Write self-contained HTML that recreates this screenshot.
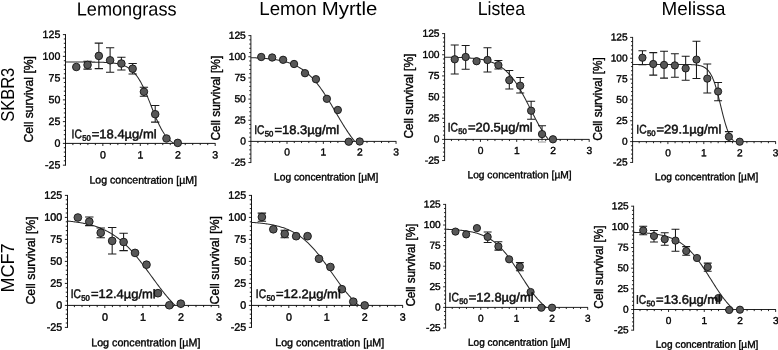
<!DOCTYPE html>
<html lang="en"><head><meta charset="utf-8"><title>Cell survival dose-response curves</title>
<style>html,body{margin:0;padding:0;background:#fff}body{width:778px;height:350px;overflow:hidden}svg{display:block;will-change:transform}text{font-family:'Liberation Sans', Arial, sans-serif}</style></head><body>
<svg width="778" height="350" viewBox="0 0 778 350">
<rect width="778" height="350" fill="#fff"/>
<text x="76.70" y="15.40" font-size="19.00" textLength="99.90" lengthAdjust="spacingAndGlyphs" transform="rotate(0.04 76.70 15.40)">Lemongrass</text>
<text x="477.70" y="15.00" font-size="19.00" textLength="47.30" lengthAdjust="spacingAndGlyphs" transform="rotate(0.04 477.70 15.00)">Listea</text>
<text x="661.60" y="15.00" font-size="19.00" textLength="63.90" lengthAdjust="spacingAndGlyphs" transform="rotate(0.04 661.60 15.00)">Melissa</text>
<text transform="rotate(0.04 259.20 15.00)"><tspan x="259.20" y="15.00" font-size="19.00" textLength="62.60" lengthAdjust="spacingAndGlyphs">Lemon </tspan><tspan x="321.80" y="15.00" font-size="19.00" textLength="55.50" lengthAdjust="spacingAndGlyphs">Myrtle</tspan></text>
<text x="13.80" y="121.80" font-size="19.00" textLength="54.00" lengthAdjust="spacingAndGlyphs" transform="rotate(-90 13.80 121.80)">SKBR3</text>
<text x="13.80" y="292.60" font-size="19.00" textLength="49.30" lengthAdjust="spacingAndGlyphs" transform="rotate(-90 13.80 292.60)">MCF7</text>
<path d="M65.50 34.15V165.61M65.05 143.40H215.45" stroke="#0a0a0a" stroke-width="0.95" fill="none"/>
<path d="M65.50 165.16h-2.60M65.50 160.81h-1.70M65.50 156.46h-1.70M65.50 152.10h-1.70M65.50 147.75h-1.70M65.50 143.40h-2.60M65.50 139.05h-1.70M65.50 134.70h-1.70M65.50 130.34h-1.70M65.50 125.99h-1.70M65.50 121.64h-2.60M65.50 117.29h-1.70M65.50 112.94h-1.70M65.50 108.58h-1.70M65.50 104.23h-1.70M65.50 99.88h-2.60M65.50 95.53h-1.70M65.50 91.18h-1.70M65.50 86.82h-1.70M65.50 82.47h-1.70M65.50 78.12h-2.60M65.50 73.77h-1.70M65.50 69.42h-1.70M65.50 65.06h-1.70M65.50 60.71h-1.70M65.50 56.36h-2.60M65.50 52.01h-1.70M65.50 47.66h-1.70M65.50 43.30h-1.70M65.50 38.95h-1.70M65.50 34.60h-2.60M72.89 143.40v1.70M80.38 143.40v1.70M87.87 143.40v1.70M95.36 143.40v1.70M102.85 143.40v2.60M110.34 143.40v1.70M117.83 143.40v1.70M125.32 143.40v1.70M132.81 143.40v1.70M140.30 143.40v2.60M147.79 143.40v1.70M155.28 143.40v1.70M162.77 143.40v1.70M170.26 143.40v1.70M177.75 143.40v2.60M185.24 143.40v1.70M192.73 143.40v1.70M200.22 143.40v1.70M207.71 143.40v1.70M215.20 143.40v2.60" stroke="#0a0a0a" stroke-width="0.90" fill="none"/>
<text x="60.30" y="37.90" font-size="10.60" text-anchor="end" transform="rotate(0.04 60.30 37.90)" stroke="#000" stroke-width="0.37">125</text>
<text x="60.30" y="59.66" font-size="10.60" text-anchor="end" transform="rotate(0.04 60.30 59.66)" stroke="#000" stroke-width="0.37">100</text>
<text x="60.30" y="81.42" font-size="10.60" text-anchor="end" transform="rotate(0.04 60.30 81.42)" stroke="#000" stroke-width="0.37">75</text>
<text x="60.30" y="103.18" font-size="10.60" text-anchor="end" transform="rotate(0.04 60.30 103.18)" stroke="#000" stroke-width="0.37">50</text>
<text x="60.30" y="124.94" font-size="10.60" text-anchor="end" transform="rotate(0.04 60.30 124.94)" stroke="#000" stroke-width="0.37">25</text>
<text x="60.30" y="146.70" font-size="10.60" text-anchor="end" transform="rotate(0.04 60.30 146.70)" stroke="#000" stroke-width="0.37">0</text>
<text x="60.30" y="168.46" font-size="10.60" text-anchor="end" transform="rotate(0.04 60.30 168.46)" stroke="#000" stroke-width="0.37">-25</text>
<text x="102.95" y="158.60" font-size="10.60" text-anchor="middle" transform="rotate(0.04 102.95 158.60)" stroke="#000" stroke-width="0.37">0</text>
<text x="140.40" y="158.60" font-size="10.60" text-anchor="middle" transform="rotate(0.04 140.40 158.60)" stroke="#000" stroke-width="0.37">1</text>
<text x="177.85" y="158.60" font-size="10.60" text-anchor="middle" transform="rotate(0.04 177.85 158.60)" stroke="#000" stroke-width="0.37">2</text>
<text x="215.30" y="158.60" font-size="10.60" text-anchor="middle" transform="rotate(0.04 215.30 158.60)" stroke="#000" stroke-width="0.37">3</text>
<text x="33.30" y="142.60" font-size="12.50" textLength="86.60" lengthAdjust="spacingAndGlyphs" transform="rotate(-90 33.30 142.60)" stroke="#000" stroke-width="0.37">Cell survival [%]</text>
<text x="89.45" y="183.60" font-size="10.80" textLength="107.60" lengthAdjust="spacingAndGlyphs" transform="rotate(0.04 89.45 183.60)" stroke="#000" stroke-width="0.37">Log concentration [µM]</text>
<path d="M65.40 62.02 L66.10 62.02 L66.80 62.02 L67.51 62.02 L68.21 62.02 L68.91 62.02 L69.61 62.02 L70.32 62.02 L71.02 62.03 L71.72 62.03 L72.42 62.03 L73.12 62.03 L73.83 62.03 L74.53 62.03 L75.23 62.03 L75.93 62.03 L76.63 62.03 L77.34 62.03 L78.04 62.03 L78.74 62.04 L79.44 62.04 L80.15 62.04 L80.85 62.04 L81.55 62.04 L82.25 62.05 L82.95 62.05 L83.66 62.05 L84.36 62.05 L85.06 62.06 L85.76 62.06 L86.47 62.06 L87.17 62.07 L87.87 62.07 L88.57 62.08 L89.27 62.08 L89.98 62.09 L90.68 62.09 L91.38 62.10 L92.08 62.11 L92.79 62.11 L93.49 62.12 L94.19 62.13 L94.89 62.14 L95.59 62.15 L96.30 62.16 L97.00 62.18 L97.70 62.19 L98.40 62.20 L99.10 62.22 L99.81 62.24 L100.51 62.26 L101.21 62.28 L101.91 62.30 L102.62 62.32 L103.32 62.35 L104.02 62.38 L104.72 62.41 L105.42 62.44 L106.13 62.48 L106.83 62.52 L107.53 62.56 L108.23 62.60 L108.94 62.65 L109.64 62.71 L110.34 62.77 L111.04 62.83 L111.74 62.90 L112.45 62.97 L113.15 63.05 L113.85 63.14 L114.55 63.23 L115.26 63.34 L115.96 63.45 L116.66 63.57 L117.36 63.70 L118.06 63.84 L118.77 63.99 L119.47 64.16 L120.17 64.33 L120.87 64.53 L121.57 64.73 L122.28 64.96 L122.98 65.20 L123.68 65.46 L124.38 65.74 L125.09 66.05 L125.79 66.37 L126.49 66.73 L127.19 67.10 L127.89 67.51 L128.60 67.95 L129.30 68.42 L130.00 68.92 L130.70 69.46 L131.41 70.04 L132.11 70.66 L132.81 71.32 L133.51 72.02 L134.21 72.77 L134.92 73.57 L135.62 74.41 L136.32 75.31 L137.02 76.26 L137.73 77.27 L138.43 78.32 L139.13 79.44 L139.83 80.61 L140.53 81.84 L141.24 83.12 L141.94 84.46 L142.64 85.85 L143.34 87.30 L144.05 88.79 L144.75 90.33 L145.45 91.92 L146.15 93.55 L146.85 95.22 L147.56 96.92 L148.26 98.64 L148.96 100.39 L149.66 102.16 L150.36 103.93 L151.07 105.71 L151.77 107.50 L152.47 109.27 L153.17 111.03 L153.88 112.77 L154.58 114.49 L155.28 116.18 L155.98 117.84 L156.68 119.46 L157.39 121.04 L158.09 122.57 L158.79 124.05 L159.49 125.48 L160.20 126.86 L160.90 128.18 L161.60 129.45 L162.30 130.66 L163.00 131.82 L163.71 132.92 L164.41 133.96 L165.11 134.95 L165.81 135.89 L166.52 136.77 L167.22 137.60 L167.92 138.39 L168.62 139.12 L169.32 139.82 L170.03 140.46 L170.73 141.07 L171.43 141.64 L172.13 142.17 L172.83 142.66 L173.54 143.12 L173.99 143.40" stroke="#2a2a2a" stroke-width="1.05" fill="none" stroke-linejoin="round"/>
<path d="M87.56 61.20V69.10M83.41 61.20h8.30M83.41 69.10h8.30M98.83 43.10V68.60M94.68 43.10h8.30M94.68 68.60h8.30M110.11 47.80V72.30M105.96 47.80h8.30M105.96 72.30h8.30M121.38 57.30V70.00M117.23 57.30h8.30M117.23 70.00h8.30M132.66 63.40V74.00M128.51 63.40h8.30M128.51 74.00h8.30M143.93 87.25V96.25M139.78 87.25h8.30M139.78 96.25h8.30M155.20 105.50V122.10M151.05 105.50h8.30M151.05 122.10h8.30" stroke="#1a1a1a" stroke-width="1.05" fill="none"/>
<circle cx="76.29" cy="67.00" r="3.80" fill="#575757" stroke="#141414" stroke-width="0.9"/>
<circle cx="87.56" cy="64.90" r="3.80" fill="#575757" stroke="#141414" stroke-width="0.9"/>
<circle cx="98.83" cy="55.90" r="3.80" fill="#575757" stroke="#141414" stroke-width="0.9"/>
<circle cx="110.11" cy="60.30" r="3.80" fill="#575757" stroke="#141414" stroke-width="0.9"/>
<circle cx="121.38" cy="63.50" r="3.80" fill="#575757" stroke="#141414" stroke-width="0.9"/>
<circle cx="132.66" cy="68.70" r="3.80" fill="#575757" stroke="#141414" stroke-width="0.9"/>
<circle cx="143.93" cy="91.75" r="3.80" fill="#575757" stroke="#141414" stroke-width="0.9"/>
<circle cx="155.20" cy="114.20" r="3.80" fill="#575757" stroke="#141414" stroke-width="0.9"/>
<circle cx="166.48" cy="138.50" r="3.80" fill="#575757" stroke="#141414" stroke-width="0.9"/>
<circle cx="177.75" cy="142.90" r="3.80" fill="#575757" stroke="#141414" stroke-width="0.9"/>
<text transform="rotate(0.04 71.60 138.20)" fill="#101010" stroke="#101010" stroke-width="0.5"><tspan x="71.60" y="138.20" font-size="12.50" textLength="10.30" lengthAdjust="spacingAndGlyphs">IC</tspan><tspan x="82.20" y="140.80" font-size="7.90" textLength="8.60" lengthAdjust="spacingAndGlyphs">50</tspan><tspan x="91.80" y="138.20" font-size="12.50" textLength="64.80" lengthAdjust="spacingAndGlyphs">=18.4µg/ml</tspan></text>
<path d="M250.90 35.15V163.01M250.45 141.40H396.30" stroke="#0a0a0a" stroke-width="0.92" fill="none"/>
<path d="M250.90 162.56h-2.52M250.90 158.33h-1.65M250.90 154.10h-1.65M250.90 149.86h-1.65M250.90 145.63h-1.65M250.90 141.40h-2.52M250.90 137.17h-1.65M250.90 132.94h-1.65M250.90 128.70h-1.65M250.90 124.47h-1.65M250.90 120.24h-2.52M250.90 116.01h-1.65M250.90 111.78h-1.65M250.90 107.54h-1.65M250.90 103.31h-1.65M250.90 99.08h-2.52M250.90 94.85h-1.65M250.90 90.62h-1.65M250.90 86.38h-1.65M250.90 82.15h-1.65M250.90 77.92h-2.52M250.90 73.69h-1.65M250.90 69.46h-1.65M250.90 65.22h-1.65M250.90 60.99h-1.65M250.90 56.76h-2.52M250.90 52.53h-1.65M250.90 48.30h-1.65M250.90 44.06h-1.65M250.90 39.83h-1.65M250.90 35.60h-2.52M257.92 141.40v1.65M265.19 141.40v1.65M272.46 141.40v1.65M279.73 141.40v1.65M287.00 141.40v2.52M294.27 141.40v1.65M301.54 141.40v1.65M308.81 141.40v1.65M316.08 141.40v1.65M323.35 141.40v2.52M330.62 141.40v1.65M337.89 141.40v1.65M345.16 141.40v1.65M352.43 141.40v1.65M359.70 141.40v2.52M366.97 141.40v1.65M374.24 141.40v1.65M381.51 141.40v1.65M388.78 141.40v1.65M396.05 141.40v2.52" stroke="#0a0a0a" stroke-width="0.87" fill="none"/>
<text x="245.85" y="38.80" font-size="10.29" text-anchor="end" transform="rotate(0.04 245.85 38.80)" stroke="#000" stroke-width="0.37">125</text>
<text x="245.85" y="59.96" font-size="10.29" text-anchor="end" transform="rotate(0.04 245.85 59.96)" stroke="#000" stroke-width="0.37">100</text>
<text x="245.85" y="81.12" font-size="10.29" text-anchor="end" transform="rotate(0.04 245.85 81.12)" stroke="#000" stroke-width="0.37">75</text>
<text x="245.85" y="102.28" font-size="10.29" text-anchor="end" transform="rotate(0.04 245.85 102.28)" stroke="#000" stroke-width="0.37">50</text>
<text x="245.85" y="123.44" font-size="10.29" text-anchor="end" transform="rotate(0.04 245.85 123.44)" stroke="#000" stroke-width="0.37">25</text>
<text x="245.85" y="144.60" font-size="10.29" text-anchor="end" transform="rotate(0.04 245.85 144.60)" stroke="#000" stroke-width="0.37">0</text>
<text x="245.85" y="165.76" font-size="10.29" text-anchor="end" transform="rotate(0.04 245.85 165.76)" stroke="#000" stroke-width="0.37">-25</text>
<text x="287.10" y="155.57" font-size="10.29" text-anchor="middle" transform="rotate(0.04 287.10 155.57)" stroke="#000" stroke-width="0.37">0</text>
<text x="323.45" y="155.57" font-size="10.29" text-anchor="middle" transform="rotate(0.04 323.45 155.57)" stroke="#000" stroke-width="0.37">1</text>
<text x="359.80" y="155.57" font-size="10.29" text-anchor="middle" transform="rotate(0.04 359.80 155.57)" stroke="#000" stroke-width="0.37">2</text>
<text x="396.15" y="155.57" font-size="10.29" text-anchor="middle" transform="rotate(0.04 396.15 155.57)" stroke="#000" stroke-width="0.37">3</text>
<text x="219.65" y="140.60" font-size="12.13" textLength="84.85" lengthAdjust="spacingAndGlyphs" transform="rotate(-90 219.65 140.60)" stroke="#000" stroke-width="0.37">Cell survival [%]</text>
<text x="273.99" y="180.42" font-size="10.48" textLength="104.44" lengthAdjust="spacingAndGlyphs" transform="rotate(0.04 273.99 180.42)" stroke="#000" stroke-width="0.37">Log concentration [µM]</text>
<path d="M250.65 57.66 L251.33 57.68 L252.01 57.71 L252.69 57.73 L253.38 57.76 L254.06 57.79 L254.74 57.82 L255.42 57.85 L256.10 57.88 L256.78 57.91 L257.47 57.95 L258.15 57.99 L258.83 58.02 L259.51 58.06 L260.19 58.11 L260.87 58.15 L261.56 58.19 L262.24 58.24 L262.92 58.29 L263.60 58.34 L264.28 58.39 L264.96 58.45 L265.64 58.51 L266.33 58.57 L267.01 58.63 L267.69 58.69 L268.37 58.76 L269.05 58.83 L269.73 58.91 L270.42 58.98 L271.10 59.06 L271.78 59.15 L272.46 59.23 L273.14 59.32 L273.82 59.42 L274.50 59.51 L275.19 59.62 L275.87 59.72 L276.55 59.83 L277.23 59.95 L277.91 60.07 L278.59 60.19 L279.28 60.32 L279.96 60.46 L280.64 60.60 L281.32 60.75 L282.00 60.90 L282.68 61.06 L283.37 61.22 L284.05 61.39 L284.73 61.57 L285.41 61.75 L286.09 61.95 L286.77 62.15 L287.45 62.35 L288.14 62.57 L288.82 62.79 L289.50 63.03 L290.18 63.27 L290.86 63.52 L291.54 63.78 L292.23 64.05 L292.91 64.33 L293.59 64.62 L294.27 64.93 L294.95 65.24 L295.63 65.56 L296.31 65.90 L297.00 66.25 L297.68 66.61 L298.36 66.98 L299.04 67.37 L299.72 67.77 L300.40 68.19 L301.09 68.62 L301.77 69.06 L302.45 69.52 L303.13 69.99 L303.81 70.48 L304.49 70.99 L305.18 71.51 L305.86 72.05 L306.54 72.60 L307.22 73.18 L307.90 73.77 L308.58 74.37 L309.26 75.00 L309.95 75.64 L310.63 76.30 L311.31 76.98 L311.99 77.68 L312.67 78.40 L313.35 79.14 L314.04 79.89 L314.72 80.67 L315.40 81.46 L316.08 82.27 L316.76 83.10 L317.44 83.95 L318.12 84.82 L318.81 85.71 L319.49 86.61 L320.17 87.53 L320.85 88.47 L321.53 89.43 L322.21 90.41 L322.90 91.40 L323.58 92.41 L324.26 93.43 L324.94 94.47 L325.62 95.52 L326.30 96.58 L326.99 97.66 L327.67 98.75 L328.35 99.85 L329.03 100.96 L329.71 102.08 L330.39 103.21 L331.07 104.35 L331.76 105.50 L332.44 106.65 L333.12 107.80 L333.80 108.96 L334.48 110.12 L335.16 111.29 L335.85 112.45 L336.53 113.62 L337.21 114.78 L337.89 115.94 L338.57 117.10 L339.25 118.25 L339.93 119.40 L340.62 120.54 L341.30 121.67 L341.98 122.80 L342.66 123.92 L343.34 125.02 L344.02 126.12 L344.71 127.20 L345.39 128.27 L346.07 129.33 L346.75 130.38 L347.43 131.41 L348.11 132.42 L348.80 133.42 L349.48 134.40 L350.16 135.37 L350.84 136.32 L351.52 137.25 L352.20 138.16 L352.88 139.06 L353.57 139.94 L354.25 140.80 L354.74 141.40" stroke="#2a2a2a" stroke-width="1.05" fill="none" stroke-linejoin="round"/>
<circle cx="261.22" cy="57.00" r="3.69" fill="#575757" stroke="#141414" stroke-width="0.9"/>
<circle cx="272.16" cy="57.50" r="3.69" fill="#575757" stroke="#141414" stroke-width="0.9"/>
<circle cx="283.10" cy="59.80" r="3.69" fill="#575757" stroke="#141414" stroke-width="0.9"/>
<circle cx="294.05" cy="64.00" r="3.69" fill="#575757" stroke="#141414" stroke-width="0.9"/>
<circle cx="304.99" cy="73.20" r="3.69" fill="#575757" stroke="#141414" stroke-width="0.9"/>
<circle cx="315.93" cy="79.20" r="3.69" fill="#575757" stroke="#141414" stroke-width="0.9"/>
<circle cx="326.87" cy="98.80" r="3.69" fill="#575757" stroke="#141414" stroke-width="0.9"/>
<circle cx="337.82" cy="110.00" r="3.69" fill="#575757" stroke="#141414" stroke-width="0.9"/>
<circle cx="348.76" cy="141.70" r="3.69" fill="#575757" stroke="#141414" stroke-width="0.9"/>
<circle cx="359.70" cy="141.50" r="3.69" fill="#575757" stroke="#141414" stroke-width="0.9"/>
<text transform="rotate(0.04 254.20 133.90)" fill="#101010" stroke="#101010" stroke-width="0.5"><tspan x="254.20" y="133.90" font-size="12.50" textLength="10.30" lengthAdjust="spacingAndGlyphs">IC</tspan><tspan x="264.80" y="136.50" font-size="7.90" textLength="8.60" lengthAdjust="spacingAndGlyphs">50</tspan><tspan x="274.40" y="133.90" font-size="12.50" textLength="64.80" lengthAdjust="spacingAndGlyphs">=18.3µg/ml</tspan></text>
<path d="M444.60 33.15V161.01M444.15 139.40H589.45" stroke="#0a0a0a" stroke-width="0.92" fill="none"/>
<path d="M444.60 160.56h-2.52M444.60 156.33h-1.65M444.60 152.10h-1.65M444.60 147.86h-1.65M444.60 143.63h-1.65M444.60 139.40h-2.52M444.60 135.17h-1.65M444.60 130.94h-1.65M444.60 126.70h-1.65M444.60 122.47h-1.65M444.60 118.24h-2.52M444.60 114.01h-1.65M444.60 109.78h-1.65M444.60 105.54h-1.65M444.60 101.31h-1.65M444.60 97.08h-2.52M444.60 92.85h-1.65M444.60 88.62h-1.65M444.60 84.38h-1.65M444.60 80.15h-1.65M444.60 75.92h-2.52M444.60 71.69h-1.65M444.60 67.46h-1.65M444.60 63.22h-1.65M444.60 58.99h-1.65M444.60 54.76h-2.52M444.60 50.53h-1.65M444.60 46.30h-1.65M444.60 42.06h-1.65M444.60 37.83h-1.65M444.60 33.60h-2.52M451.45 139.40v1.65M458.70 139.40v1.65M465.95 139.40v1.65M473.20 139.40v1.65M480.45 139.40v2.52M487.70 139.40v1.65M494.95 139.40v1.65M502.20 139.40v1.65M509.45 139.40v1.65M516.70 139.40v2.52M523.95 139.40v1.65M531.20 139.40v1.65M538.45 139.40v1.65M545.70 139.40v1.65M552.95 139.40v2.52M560.20 139.40v1.65M567.45 139.40v1.65M574.70 139.40v1.65M581.95 139.40v1.65M589.20 139.40v2.52" stroke="#0a0a0a" stroke-width="0.87" fill="none"/>
<text x="439.57" y="36.79" font-size="10.26" text-anchor="end" transform="rotate(0.04 439.57 36.79)" stroke="#000" stroke-width="0.37">125</text>
<text x="439.57" y="57.95" font-size="10.26" text-anchor="end" transform="rotate(0.04 439.57 57.95)" stroke="#000" stroke-width="0.37">100</text>
<text x="439.57" y="79.11" font-size="10.26" text-anchor="end" transform="rotate(0.04 439.57 79.11)" stroke="#000" stroke-width="0.37">75</text>
<text x="439.57" y="100.27" font-size="10.26" text-anchor="end" transform="rotate(0.04 439.57 100.27)" stroke="#000" stroke-width="0.37">50</text>
<text x="439.57" y="121.43" font-size="10.26" text-anchor="end" transform="rotate(0.04 439.57 121.43)" stroke="#000" stroke-width="0.37">25</text>
<text x="439.57" y="142.59" font-size="10.26" text-anchor="end" transform="rotate(0.04 439.57 142.59)" stroke="#000" stroke-width="0.37">0</text>
<text x="439.57" y="163.75" font-size="10.26" text-anchor="end" transform="rotate(0.04 439.57 163.75)" stroke="#000" stroke-width="0.37">-25</text>
<text x="480.55" y="154.11" font-size="10.26" text-anchor="middle" transform="rotate(0.04 480.55 154.11)" stroke="#000" stroke-width="0.37">0</text>
<text x="516.80" y="154.11" font-size="10.26" text-anchor="middle" transform="rotate(0.04 516.80 154.11)" stroke="#000" stroke-width="0.37">1</text>
<text x="553.05" y="154.11" font-size="10.26" text-anchor="middle" transform="rotate(0.04 553.05 154.11)" stroke="#000" stroke-width="0.37">2</text>
<text x="589.30" y="154.11" font-size="10.26" text-anchor="middle" transform="rotate(0.04 589.30 154.11)" stroke="#000" stroke-width="0.37">3</text>
<text x="413.43" y="138.60" font-size="12.10" textLength="85.00" lengthAdjust="spacingAndGlyphs" transform="rotate(-90 413.43 138.60)" stroke="#000" stroke-width="0.37">Cell survival [%]</text>
<text x="467.48" y="178.31" font-size="10.45" textLength="104.15" lengthAdjust="spacingAndGlyphs" transform="rotate(0.04 467.48 178.31)" stroke="#000" stroke-width="0.37">Log concentration [µM]</text>
<path d="M444.20 57.21 L444.88 57.21 L445.56 57.22 L446.24 57.23 L446.92 57.24 L447.60 57.25 L448.28 57.26 L448.96 57.27 L449.64 57.28 L450.32 57.29 L451.00 57.30 L451.68 57.31 L452.36 57.33 L453.04 57.34 L453.72 57.35 L454.40 57.37 L455.07 57.38 L455.75 57.40 L456.43 57.42 L457.11 57.44 L457.79 57.46 L458.47 57.48 L459.15 57.50 L459.83 57.52 L460.51 57.55 L461.19 57.57 L461.87 57.60 L462.55 57.63 L463.23 57.66 L463.91 57.69 L464.59 57.72 L465.27 57.76 L465.95 57.79 L466.63 57.83 L467.31 57.87 L467.99 57.92 L468.67 57.96 L469.35 58.01 L470.03 58.06 L470.71 58.11 L471.39 58.17 L472.07 58.23 L472.75 58.29 L473.43 58.35 L474.11 58.42 L474.79 58.49 L475.47 58.57 L476.15 58.65 L476.82 58.73 L477.50 58.82 L478.18 58.91 L478.86 59.01 L479.54 59.11 L480.22 59.22 L480.90 59.33 L481.58 59.45 L482.26 59.57 L482.94 59.70 L483.62 59.84 L484.30 59.99 L484.98 60.14 L485.66 60.30 L486.34 60.47 L487.02 60.64 L487.70 60.83 L488.38 61.02 L489.06 61.23 L489.74 61.44 L490.42 61.66 L491.10 61.90 L491.78 62.15 L492.46 62.41 L493.14 62.68 L493.82 62.96 L494.50 63.26 L495.18 63.57 L495.86 63.90 L496.54 64.24 L497.22 64.60 L497.90 64.97 L498.57 65.36 L499.25 65.77 L499.93 66.20 L500.61 66.64 L501.29 67.11 L501.97 67.59 L502.65 68.10 L503.33 68.62 L504.01 69.17 L504.69 69.74 L505.37 70.33 L506.05 70.95 L506.73 71.59 L507.41 72.26 L508.09 72.95 L508.77 73.66 L509.45 74.41 L510.13 75.17 L510.81 75.97 L511.49 76.79 L512.17 77.64 L512.85 78.51 L513.53 79.41 L514.21 80.34 L514.89 81.30 L515.57 82.28 L516.25 83.29 L516.93 84.33 L517.61 85.39 L518.29 86.47 L518.97 87.58 L519.65 88.72 L520.33 89.88 L521.00 91.06 L521.68 92.26 L522.36 93.48 L523.04 94.71 L523.72 95.97 L524.40 97.24 L525.08 98.53 L525.76 99.83 L526.44 101.14 L527.12 102.46 L527.80 103.79 L528.48 105.12 L529.16 106.46 L529.84 107.80 L530.52 109.14 L531.20 110.48 L531.88 111.82 L532.56 113.15 L533.24 114.48 L533.92 115.79 L534.60 117.10 L535.28 118.40 L535.96 119.68 L536.64 120.95 L537.32 122.20 L538.00 123.43 L538.68 124.65 L539.36 125.84 L540.04 127.01 L540.72 128.16 L541.40 129.29 L542.08 130.39 L542.75 131.47 L543.43 132.52 L544.11 133.55 L544.79 134.55 L545.47 135.53 L546.15 136.48 L546.83 137.40 L547.51 138.29 L548.19 139.16 L548.39 139.40" stroke="#2a2a2a" stroke-width="1.05" fill="none" stroke-linejoin="round"/>
<path d="M454.74 44.90V73.90M450.72 44.90h8.03M450.72 73.90h8.03M465.65 45.40V69.20M461.63 45.40h8.03M461.63 69.20h8.03M487.48 47.80V72.00M483.46 47.80h8.03M483.46 72.00h8.03M498.39 60.50V69.00M494.37 60.50h8.03M494.37 69.00h8.03M509.30 70.40V88.90M505.28 70.40h8.03M505.28 88.90h8.03M520.21 77.40V92.90M516.20 77.40h8.03M516.20 92.90h8.03M531.13 101.20V119.30M527.11 101.20h8.03M527.11 119.30h8.03M542.04 125.80V142.00M538.02 125.80h8.03M538.02 142.00h8.03" stroke="#1a1a1a" stroke-width="1.05" fill="none"/>
<path d="M542.04 139.90V142.00M538.02 142.00h8.03" stroke="#fff" stroke-width="1.4" fill="none"/>
<path d="M542.04 139.90V142.00M538.02 142.00h8.03" stroke="#b4b4b4" stroke-width="1.0" fill="none"/>
<circle cx="454.74" cy="59.30" r="3.68" fill="#575757" stroke="#141414" stroke-width="0.9"/>
<circle cx="465.65" cy="57.00" r="3.68" fill="#575757" stroke="#141414" stroke-width="0.9"/>
<circle cx="476.56" cy="61.20" r="3.68" fill="#575757" stroke="#141414" stroke-width="0.9"/>
<circle cx="487.48" cy="60.00" r="3.68" fill="#575757" stroke="#141414" stroke-width="0.9"/>
<circle cx="498.39" cy="65.10" r="3.68" fill="#575757" stroke="#141414" stroke-width="0.9"/>
<circle cx="509.30" cy="80.20" r="3.68" fill="#575757" stroke="#141414" stroke-width="0.9"/>
<circle cx="520.21" cy="85.70" r="3.68" fill="#575757" stroke="#141414" stroke-width="0.9"/>
<circle cx="531.13" cy="110.70" r="3.68" fill="#575757" stroke="#141414" stroke-width="0.9"/>
<circle cx="542.04" cy="134.10" r="3.68" fill="#575757" stroke="#141414" stroke-width="0.9"/>
<circle cx="552.95" cy="139.30" r="3.68" fill="#575757" stroke="#141414" stroke-width="0.9"/>
<text transform="rotate(0.04 447.70 131.50)" fill="#101010" stroke="#101010" stroke-width="0.5"><tspan x="447.70" y="131.50" font-size="12.50" textLength="10.30" lengthAdjust="spacingAndGlyphs">IC</tspan><tspan x="458.30" y="134.10" font-size="7.90" textLength="8.60" lengthAdjust="spacingAndGlyphs">50</tspan><tspan x="467.90" y="131.50" font-size="12.50" textLength="64.80" lengthAdjust="spacingAndGlyphs">=20.5µg/ml</tspan></text>
<path d="M632.60 36.95V162.89M632.15 141.60H775.85" stroke="#0a0a0a" stroke-width="0.91" fill="none"/>
<path d="M632.60 162.44h-2.49M632.60 158.27h-1.63M632.60 154.10h-1.63M632.60 149.94h-1.63M632.60 145.77h-1.63M632.60 141.60h-2.49M632.60 137.43h-1.63M632.60 133.26h-1.63M632.60 129.10h-1.63M632.60 124.93h-1.63M632.60 120.76h-2.49M632.60 116.59h-1.63M632.60 112.42h-1.63M632.60 108.26h-1.63M632.60 104.09h-1.63M632.60 99.92h-2.49M632.60 95.75h-1.63M632.60 91.58h-1.63M632.60 87.42h-1.63M632.60 83.25h-1.63M632.60 79.08h-2.49M632.60 74.91h-1.63M632.60 70.74h-1.63M632.60 66.58h-1.63M632.60 62.41h-1.63M632.60 58.24h-2.49M632.60 54.07h-1.63M632.60 49.90h-1.63M632.60 45.74h-1.63M632.60 41.57h-1.63M632.60 37.40h-2.49M639.18 141.60v1.63M646.36 141.60v1.63M653.54 141.60v1.63M660.72 141.60v1.63M667.90 141.60v2.49M675.08 141.60v1.63M682.26 141.60v1.63M689.44 141.60v1.63M696.62 141.60v1.63M703.80 141.60v2.49M710.98 141.60v1.63M718.16 141.60v1.63M725.34 141.60v1.63M732.52 141.60v1.63M739.70 141.60v2.49M746.88 141.60v1.63M754.06 141.60v1.63M761.24 141.60v1.63M768.42 141.60v1.63M775.60 141.60v2.49" stroke="#0a0a0a" stroke-width="0.86" fill="none"/>
<text x="627.62" y="40.56" font-size="10.16" text-anchor="end" transform="rotate(0.04 627.62 40.56)" stroke="#000" stroke-width="0.37">125</text>
<text x="627.62" y="61.40" font-size="10.16" text-anchor="end" transform="rotate(0.04 627.62 61.40)" stroke="#000" stroke-width="0.37">100</text>
<text x="627.62" y="82.24" font-size="10.16" text-anchor="end" transform="rotate(0.04 627.62 82.24)" stroke="#000" stroke-width="0.37">75</text>
<text x="627.62" y="103.08" font-size="10.16" text-anchor="end" transform="rotate(0.04 627.62 103.08)" stroke="#000" stroke-width="0.37">50</text>
<text x="627.62" y="123.92" font-size="10.16" text-anchor="end" transform="rotate(0.04 627.62 123.92)" stroke="#000" stroke-width="0.37">25</text>
<text x="627.62" y="144.76" font-size="10.16" text-anchor="end" transform="rotate(0.04 627.62 144.76)" stroke="#000" stroke-width="0.37">0</text>
<text x="627.62" y="165.60" font-size="10.16" text-anchor="end" transform="rotate(0.04 627.62 165.60)" stroke="#000" stroke-width="0.37">-25</text>
<text x="668.00" y="156.17" font-size="10.16" text-anchor="middle" transform="rotate(0.04 668.00 156.17)" stroke="#000" stroke-width="0.37">0</text>
<text x="703.90" y="156.17" font-size="10.16" text-anchor="middle" transform="rotate(0.04 703.90 156.17)" stroke="#000" stroke-width="0.37">1</text>
<text x="739.80" y="156.17" font-size="10.16" text-anchor="middle" transform="rotate(0.04 739.80 156.17)" stroke="#000" stroke-width="0.37">2</text>
<text x="775.70" y="156.17" font-size="10.16" text-anchor="middle" transform="rotate(0.04 775.70 156.17)" stroke="#000" stroke-width="0.37">3</text>
<text x="601.73" y="140.80" font-size="11.98" textLength="83.55" lengthAdjust="spacingAndGlyphs" transform="rotate(-90 601.73 140.80)" stroke="#000" stroke-width="0.37">Cell survival [%]</text>
<text x="655.05" y="180.14" font-size="10.35" textLength="103.15" lengthAdjust="spacingAndGlyphs" transform="rotate(0.04 655.05 180.14)" stroke="#000" stroke-width="0.37">Log concentration [µM]</text>
<path d="M632.00 64.41 L632.67 64.41 L633.35 64.41 L634.02 64.41 L634.69 64.41 L635.37 64.41 L636.04 64.41 L636.71 64.41 L637.38 64.41 L638.06 64.41 L638.73 64.41 L639.40 64.41 L640.08 64.41 L640.75 64.41 L641.42 64.41 L642.10 64.41 L642.77 64.41 L643.44 64.41 L644.12 64.41 L644.79 64.41 L645.46 64.41 L646.14 64.41 L646.81 64.41 L647.48 64.41 L648.15 64.41 L648.83 64.41 L649.50 64.41 L650.17 64.41 L650.85 64.41 L651.52 64.41 L652.19 64.41 L652.87 64.41 L653.54 64.41 L654.21 64.41 L654.89 64.41 L655.56 64.41 L656.23 64.41 L656.91 64.41 L657.58 64.41 L658.25 64.41 L658.92 64.41 L659.60 64.41 L660.27 64.41 L660.94 64.41 L661.62 64.41 L662.29 64.41 L662.96 64.41 L663.64 64.41 L664.31 64.41 L664.98 64.41 L665.66 64.41 L666.33 64.41 L667.00 64.41 L667.68 64.41 L668.35 64.41 L669.02 64.41 L669.69 64.41 L670.37 64.41 L671.04 64.41 L671.71 64.41 L672.39 64.41 L673.06 64.41 L673.73 64.41 L674.41 64.42 L675.08 64.42 L675.75 64.42 L676.43 64.42 L677.10 64.42 L677.77 64.42 L678.45 64.42 L679.12 64.43 L679.79 64.43 L680.47 64.43 L681.14 64.44 L681.81 64.44 L682.48 64.45 L683.16 64.45 L683.83 64.46 L684.50 64.46 L685.18 64.47 L685.85 64.48 L686.52 64.49 L687.20 64.50 L687.87 64.52 L688.54 64.53 L689.22 64.55 L689.89 64.57 L690.56 64.60 L691.24 64.62 L691.91 64.66 L692.58 64.69 L693.25 64.73 L693.93 64.78 L694.60 64.83 L695.27 64.89 L695.95 64.96 L696.62 65.04 L697.29 65.14 L697.97 65.24 L698.64 65.36 L699.31 65.50 L699.99 65.66 L700.66 65.83 L701.33 66.04 L702.00 66.27 L702.68 66.53 L703.35 66.83 L704.02 67.17 L704.70 67.56 L705.37 68.00 L706.04 68.50 L706.72 69.06 L707.39 69.69 L708.06 70.41 L708.74 71.21 L709.41 72.11 L710.08 73.11 L710.76 74.23 L711.43 75.46 L712.10 76.83 L712.77 78.33 L713.45 79.98 L714.12 81.77 L714.79 83.70 L715.47 85.78 L716.14 88.00 L716.81 90.35 L717.49 92.82 L718.16 95.40 L718.83 98.06 L719.51 100.79 L720.18 103.57 L720.85 106.36 L721.53 109.14 L722.20 111.89 L722.87 114.58 L723.54 117.19 L724.22 119.70 L724.89 122.10 L725.56 124.36 L726.24 126.49 L726.91 128.48 L727.58 130.32 L728.26 132.02 L728.93 133.57 L729.60 134.99 L730.28 136.27 L730.95 137.43 L731.62 138.47 L732.30 139.40 L732.97 140.24 L733.64 140.98 L734.27 141.60" stroke="#2a2a2a" stroke-width="1.05" fill="none" stroke-linejoin="round"/>
<path d="M642.44 50.80V64.70M638.46 50.80h7.96M638.46 64.70h7.96M653.24 52.60V75.10M649.27 52.60h7.96M649.27 75.10h7.96M664.05 51.20V78.10M660.07 51.20h7.96M660.07 78.10h7.96M674.86 53.80V77.20M670.88 53.80h7.96M670.88 77.20h7.96M685.67 56.30V80.20M681.69 56.30h7.96M681.69 80.20h7.96M696.47 41.30V78.50M692.49 41.30h7.96M692.49 78.50h7.96M707.28 64.00V92.90M703.30 64.00h7.96M703.30 92.90h7.96M718.09 82.50V100.70M714.11 82.50h7.96M714.11 100.70h7.96M728.89 131.60V141.40M724.91 131.60h7.96M724.91 141.40h7.96" stroke="#1a1a1a" stroke-width="1.05" fill="none"/>
<circle cx="642.44" cy="57.70" r="3.64" fill="#575757" stroke="#141414" stroke-width="0.9"/>
<circle cx="653.24" cy="64.00" r="3.64" fill="#575757" stroke="#141414" stroke-width="0.9"/>
<circle cx="664.05" cy="64.90" r="3.64" fill="#575757" stroke="#141414" stroke-width="0.9"/>
<circle cx="674.86" cy="65.40" r="3.64" fill="#575757" stroke="#141414" stroke-width="0.9"/>
<circle cx="685.67" cy="68.40" r="3.64" fill="#575757" stroke="#141414" stroke-width="0.9"/>
<circle cx="696.47" cy="59.60" r="3.64" fill="#575757" stroke="#141414" stroke-width="0.9"/>
<circle cx="707.28" cy="78.60" r="3.64" fill="#575757" stroke="#141414" stroke-width="0.9"/>
<circle cx="718.09" cy="91.50" r="3.64" fill="#575757" stroke="#141414" stroke-width="0.9"/>
<circle cx="728.89" cy="136.75" r="3.64" fill="#575757" stroke="#141414" stroke-width="0.9"/>
<circle cx="739.70" cy="141.70" r="3.64" fill="#575757" stroke="#141414" stroke-width="0.9"/>
<text transform="rotate(0.04 636.30 133.50)" fill="#101010" stroke="#101010" stroke-width="0.5"><tspan x="636.30" y="133.50" font-size="12.50" textLength="10.30" lengthAdjust="spacingAndGlyphs">IC</tspan><tspan x="646.90" y="136.10" font-size="7.90" textLength="8.60" lengthAdjust="spacingAndGlyphs">50</tspan><tspan x="656.50" y="133.50" font-size="12.50" textLength="64.80" lengthAdjust="spacingAndGlyphs">=29.1µg/ml</tspan></text>
<path d="M67.50 194.95V327.85M67.05 305.40H219.05" stroke="#0a0a0a" stroke-width="0.96" fill="none"/>
<path d="M67.50 327.40h-2.64M67.50 323.00h-1.72M67.50 318.60h-1.72M67.50 314.20h-1.72M67.50 309.80h-1.72M67.50 305.40h-2.64M67.50 301.00h-1.72M67.50 296.60h-1.72M67.50 292.20h-1.72M67.50 287.80h-1.72M67.50 283.40h-2.64M67.50 279.00h-1.72M67.50 274.60h-1.72M67.50 270.20h-1.72M67.50 265.80h-1.72M67.50 261.40h-2.64M67.50 257.00h-1.72M67.50 252.60h-1.72M67.50 248.20h-1.72M67.50 243.80h-1.72M67.50 239.40h-2.64M67.50 235.00h-1.72M67.50 230.60h-1.72M67.50 226.20h-1.72M67.50 221.80h-1.72M67.50 217.40h-2.64M67.50 213.00h-1.72M67.50 208.60h-1.72M67.50 204.20h-1.72M67.50 199.80h-1.72M67.50 195.40h-2.64M74.40 305.40v1.72M82.00 305.40v1.72M89.60 305.40v1.72M97.20 305.40v1.72M104.80 305.40v2.64M112.40 305.40v1.72M120.00 305.40v1.72M127.60 305.40v1.72M135.20 305.40v1.72M142.80 305.40v2.64M150.40 305.40v1.72M158.00 305.40v1.72M165.60 305.40v1.72M173.20 305.40v1.72M180.80 305.40v2.64M188.40 305.40v1.72M196.00 305.40v1.72M203.60 305.40v1.72M211.20 305.40v1.72M218.80 305.40v2.64" stroke="#0a0a0a" stroke-width="0.91" fill="none"/>
<text x="62.22" y="198.75" font-size="10.76" text-anchor="end" transform="rotate(0.04 62.22 198.75)" stroke="#000" stroke-width="0.37">125</text>
<text x="62.22" y="220.75" font-size="10.76" text-anchor="end" transform="rotate(0.04 62.22 220.75)" stroke="#000" stroke-width="0.37">100</text>
<text x="62.22" y="242.75" font-size="10.76" text-anchor="end" transform="rotate(0.04 62.22 242.75)" stroke="#000" stroke-width="0.37">75</text>
<text x="62.22" y="264.75" font-size="10.76" text-anchor="end" transform="rotate(0.04 62.22 264.75)" stroke="#000" stroke-width="0.37">50</text>
<text x="62.22" y="286.75" font-size="10.76" text-anchor="end" transform="rotate(0.04 62.22 286.75)" stroke="#000" stroke-width="0.37">25</text>
<text x="62.22" y="308.75" font-size="10.76" text-anchor="end" transform="rotate(0.04 62.22 308.75)" stroke="#000" stroke-width="0.37">0</text>
<text x="62.22" y="330.75" font-size="10.76" text-anchor="end" transform="rotate(0.04 62.22 330.75)" stroke="#000" stroke-width="0.37">-25</text>
<text x="104.90" y="320.82" font-size="10.76" text-anchor="middle" transform="rotate(0.04 104.90 320.82)" stroke="#000" stroke-width="0.37">0</text>
<text x="142.90" y="320.82" font-size="10.76" text-anchor="middle" transform="rotate(0.04 142.90 320.82)" stroke="#000" stroke-width="0.37">1</text>
<text x="180.90" y="320.82" font-size="10.76" text-anchor="middle" transform="rotate(0.04 180.90 320.82)" stroke="#000" stroke-width="0.37">2</text>
<text x="218.90" y="320.82" font-size="10.76" text-anchor="middle" transform="rotate(0.04 218.90 320.82)" stroke="#000" stroke-width="0.37">3</text>
<text x="34.83" y="304.60" font-size="12.68" textLength="88.35" lengthAdjust="spacingAndGlyphs" transform="rotate(-90 34.83 304.60)" stroke="#000" stroke-width="0.37">Cell survival [%]</text>
<text x="91.20" y="346.19" font-size="10.96" textLength="109.18" lengthAdjust="spacingAndGlyphs" transform="rotate(0.04 91.20 346.19)" stroke="#000" stroke-width="0.37">Log concentration [µM]</text>
<path d="M66.80 221.00 L67.51 221.06 L68.22 221.13 L68.94 221.20 L69.65 221.27 L70.36 221.35 L71.07 221.43 L71.79 221.51 L72.50 221.59 L73.21 221.68 L73.92 221.77 L74.64 221.86 L75.35 221.95 L76.06 222.05 L76.77 222.15 L77.49 222.25 L78.20 222.36 L78.91 222.47 L79.62 222.59 L80.34 222.71 L81.05 222.83 L81.76 222.96 L82.47 223.09 L83.19 223.22 L83.90 223.36 L84.61 223.51 L85.33 223.65 L86.04 223.81 L86.75 223.96 L87.46 224.13 L88.17 224.30 L88.89 224.47 L89.60 224.65 L90.31 224.83 L91.02 225.02 L91.74 225.22 L92.45 225.42 L93.16 225.63 L93.88 225.85 L94.59 226.07 L95.30 226.30 L96.01 226.53 L96.72 226.77 L97.44 227.02 L98.15 227.28 L98.86 227.55 L99.58 227.82 L100.29 228.10 L101.00 228.39 L101.71 228.69 L102.42 228.99 L103.14 229.31 L103.85 229.63 L104.56 229.96 L105.27 230.31 L105.99 230.66 L106.70 231.02 L107.41 231.39 L108.12 231.77 L108.84 232.17 L109.55 232.57 L110.26 232.98 L110.97 233.41 L111.69 233.84 L112.40 234.29 L113.11 234.74 L113.83 235.21 L114.54 235.69 L115.25 236.19 L115.96 236.69 L116.67 237.21 L117.39 237.74 L118.10 238.28 L118.81 238.83 L119.52 239.40 L120.24 239.98 L120.95 240.57 L121.66 241.17 L122.38 241.79 L123.09 242.42 L123.80 243.06 L124.51 243.72 L125.22 244.38 L125.94 245.06 L126.65 245.76 L127.36 246.46 L128.07 247.18 L128.79 247.92 L129.50 248.66 L130.21 249.42 L130.93 250.19 L131.64 250.97 L132.35 251.76 L133.06 252.56 L133.78 253.38 L134.49 254.21 L135.20 255.04 L135.91 255.89 L136.62 256.75 L137.34 257.62 L138.05 258.50 L138.76 259.39 L139.47 260.28 L140.19 261.19 L140.90 262.10 L141.61 263.02 L142.32 263.95 L143.04 264.89 L143.75 265.83 L144.46 266.78 L145.18 267.73 L145.89 268.68 L146.60 269.65 L147.31 270.61 L148.03 271.58 L148.74 272.55 L149.45 273.52 L150.16 274.50 L150.88 275.47 L151.59 276.45 L152.30 277.42 L153.01 278.39 L153.72 279.37 L154.44 280.34 L155.15 281.30 L155.86 282.27 L156.57 283.23 L157.29 284.19 L158.00 285.14 L158.71 286.09 L159.43 287.03 L160.14 287.96 L160.85 288.89 L161.56 289.81 L162.28 290.73 L162.99 291.63 L163.70 292.53 L164.41 293.42 L165.12 294.30 L165.84 295.16 L166.55 296.02 L167.26 296.87 L167.97 297.71 L168.69 298.54 L169.40 299.35 L170.11 300.16 L170.82 300.95 L171.54 301.73 L172.25 302.50 L172.96 303.26 L173.68 304.00 L174.39 304.73 L175.05 305.40" stroke="#2a2a2a" stroke-width="1.05" fill="none" stroke-linejoin="round"/>
<path d="M89.29 217.00V225.60M85.08 217.00h8.42M85.08 225.60h8.42M100.73 227.90V237.80M96.52 227.90h8.42M96.52 237.80h8.42M112.17 227.40V254.00M107.95 227.40h8.42M107.95 254.00h8.42M123.60 233.20V250.60M119.39 233.20h8.42M119.39 250.60h8.42" stroke="#1a1a1a" stroke-width="1.05" fill="none"/>
<circle cx="77.85" cy="217.50" r="3.86" fill="#575757" stroke="#141414" stroke-width="0.9"/>
<circle cx="89.29" cy="221.60" r="3.86" fill="#575757" stroke="#141414" stroke-width="0.9"/>
<circle cx="100.73" cy="232.80" r="3.86" fill="#575757" stroke="#141414" stroke-width="0.9"/>
<circle cx="112.17" cy="240.90" r="3.86" fill="#575757" stroke="#141414" stroke-width="0.9"/>
<circle cx="123.60" cy="242.00" r="3.86" fill="#575757" stroke="#141414" stroke-width="0.9"/>
<circle cx="135.04" cy="252.90" r="3.86" fill="#575757" stroke="#141414" stroke-width="0.9"/>
<circle cx="146.48" cy="264.70" r="3.86" fill="#575757" stroke="#141414" stroke-width="0.9"/>
<circle cx="157.92" cy="293.20" r="3.86" fill="#575757" stroke="#141414" stroke-width="0.9"/>
<circle cx="169.36" cy="305.25" r="3.86" fill="#575757" stroke="#141414" stroke-width="0.9"/>
<circle cx="180.80" cy="303.70" r="3.86" fill="#575757" stroke="#141414" stroke-width="0.9"/>
<text transform="rotate(0.04 70.70 298.10)" fill="#101010" stroke="#101010" stroke-width="0.5"><tspan x="70.70" y="298.10" font-size="12.50" textLength="10.30" lengthAdjust="spacingAndGlyphs">IC</tspan><tspan x="81.30" y="300.70" font-size="7.90" textLength="8.60" lengthAdjust="spacingAndGlyphs">50</tspan><tspan x="90.90" y="298.10" font-size="12.50" textLength="64.80" lengthAdjust="spacingAndGlyphs">=12.4µg/ml</tspan></text>
<path d="M251.50 194.95V327.85M251.05 305.40H402.90" stroke="#0a0a0a" stroke-width="0.96" fill="none"/>
<path d="M251.50 327.40h-2.63M251.50 323.00h-1.72M251.50 318.60h-1.72M251.50 314.20h-1.72M251.50 309.80h-1.72M251.50 305.40h-2.63M251.50 301.00h-1.72M251.50 296.60h-1.72M251.50 292.20h-1.72M251.50 287.80h-1.72M251.50 283.40h-2.63M251.50 279.00h-1.72M251.50 274.60h-1.72M251.50 270.20h-1.72M251.50 265.80h-1.72M251.50 261.40h-2.63M251.50 257.00h-1.72M251.50 252.60h-1.72M251.50 248.20h-1.72M251.50 243.80h-1.72M251.50 239.40h-2.63M251.50 235.00h-1.72M251.50 230.60h-1.72M251.50 226.20h-1.72M251.50 221.80h-1.72M251.50 217.40h-2.63M251.50 213.00h-1.72M251.50 208.60h-1.72M251.50 204.20h-1.72M251.50 199.80h-1.72M251.50 195.40h-2.63M258.44 305.40v1.72M266.03 305.40v1.72M273.62 305.40v1.72M281.21 305.40v1.72M288.80 305.40v2.63M296.39 305.40v1.72M303.98 305.40v1.72M311.57 305.40v1.72M319.16 305.40v1.72M326.75 305.40v2.63M334.34 305.40v1.72M341.93 305.40v1.72M349.52 305.40v1.72M357.11 305.40v1.72M364.70 305.40v2.63M372.29 305.40v1.72M379.88 305.40v1.72M387.47 305.40v1.72M395.06 305.40v1.72M402.65 305.40v2.63" stroke="#0a0a0a" stroke-width="0.91" fill="none"/>
<text x="246.23" y="198.74" font-size="10.74" text-anchor="end" transform="rotate(0.04 246.23 198.74)" stroke="#000" stroke-width="0.37">125</text>
<text x="246.23" y="220.74" font-size="10.74" text-anchor="end" transform="rotate(0.04 246.23 220.74)" stroke="#000" stroke-width="0.37">100</text>
<text x="246.23" y="242.74" font-size="10.74" text-anchor="end" transform="rotate(0.04 246.23 242.74)" stroke="#000" stroke-width="0.37">75</text>
<text x="246.23" y="264.74" font-size="10.74" text-anchor="end" transform="rotate(0.04 246.23 264.74)" stroke="#000" stroke-width="0.37">50</text>
<text x="246.23" y="286.74" font-size="10.74" text-anchor="end" transform="rotate(0.04 246.23 286.74)" stroke="#000" stroke-width="0.37">25</text>
<text x="246.23" y="308.74" font-size="10.74" text-anchor="end" transform="rotate(0.04 246.23 308.74)" stroke="#000" stroke-width="0.37">0</text>
<text x="246.23" y="330.74" font-size="10.74" text-anchor="end" transform="rotate(0.04 246.23 330.74)" stroke="#000" stroke-width="0.37">-25</text>
<text x="288.90" y="320.80" font-size="10.74" text-anchor="middle" transform="rotate(0.04 288.90 320.80)" stroke="#000" stroke-width="0.37">0</text>
<text x="326.85" y="320.80" font-size="10.74" text-anchor="middle" transform="rotate(0.04 326.85 320.80)" stroke="#000" stroke-width="0.37">1</text>
<text x="364.80" y="320.80" font-size="10.74" text-anchor="middle" transform="rotate(0.04 364.80 320.80)" stroke="#000" stroke-width="0.37">2</text>
<text x="402.75" y="320.80" font-size="10.74" text-anchor="middle" transform="rotate(0.04 402.75 320.80)" stroke="#000" stroke-width="0.37">3</text>
<text x="218.87" y="304.60" font-size="12.67" textLength="88.60" lengthAdjust="spacingAndGlyphs" transform="rotate(-90 218.87 304.60)" stroke="#000" stroke-width="0.37">Cell survival [%]</text>
<text x="275.22" y="346.14" font-size="10.94" textLength="109.04" lengthAdjust="spacingAndGlyphs" transform="rotate(0.04 275.22 346.14)" stroke="#000" stroke-width="0.37">Log concentration [µM]</text>
<path d="M250.85 222.33 L251.56 222.38 L252.27 222.43 L252.98 222.48 L253.70 222.53 L254.41 222.58 L255.12 222.64 L255.83 222.69 L256.54 222.75 L257.25 222.82 L257.97 222.88 L258.68 222.95 L259.39 223.02 L260.10 223.09 L260.81 223.16 L261.52 223.24 L262.24 223.32 L262.95 223.41 L263.66 223.50 L264.37 223.59 L265.08 223.68 L265.79 223.78 L266.50 223.88 L267.22 223.99 L267.93 224.09 L268.64 224.21 L269.35 224.33 L270.06 224.45 L270.77 224.58 L271.49 224.71 L272.20 224.84 L272.91 224.99 L273.62 225.13 L274.33 225.29 L275.04 225.44 L275.75 225.61 L276.47 225.78 L277.18 225.95 L277.89 226.14 L278.60 226.32 L279.31 226.52 L280.02 226.72 L280.74 226.93 L281.45 227.15 L282.16 227.38 L282.87 227.61 L283.58 227.85 L284.29 228.10 L285.00 228.36 L285.72 228.63 L286.43 228.91 L287.14 229.19 L287.85 229.49 L288.56 229.79 L289.27 230.11 L289.99 230.44 L290.70 230.77 L291.41 231.12 L292.12 231.48 L292.83 231.85 L293.54 232.24 L294.26 232.63 L294.97 233.04 L295.68 233.46 L296.39 233.89 L297.10 234.34 L297.81 234.80 L298.52 235.27 L299.24 235.75 L299.95 236.25 L300.66 236.77 L301.37 237.30 L302.08 237.84 L302.79 238.40 L303.51 238.97 L304.22 239.56 L304.93 240.16 L305.64 240.78 L306.35 241.41 L307.06 242.06 L307.78 242.73 L308.49 243.40 L309.20 244.10 L309.91 244.81 L310.62 245.53 L311.33 246.28 L312.04 247.03 L312.76 247.80 L313.47 248.59 L314.18 249.39 L314.89 250.20 L315.60 251.03 L316.31 251.87 L317.03 252.73 L317.74 253.60 L318.45 254.48 L319.16 255.38 L319.87 256.28 L320.58 257.20 L321.29 258.13 L322.01 259.07 L322.72 260.02 L323.43 260.98 L324.14 261.94 L324.85 262.92 L325.56 263.90 L326.28 264.89 L326.99 265.88 L327.70 266.88 L328.41 267.89 L329.12 268.90 L329.83 269.91 L330.55 270.92 L331.26 271.94 L331.97 272.95 L332.68 273.97 L333.39 274.98 L334.10 275.99 L334.81 277.00 L335.53 278.01 L336.24 279.01 L336.95 280.01 L337.66 281.00 L338.37 281.99 L339.08 282.97 L339.80 283.94 L340.51 284.90 L341.22 285.86 L341.93 286.80 L342.64 287.73 L343.35 288.66 L344.06 289.57 L344.78 290.47 L345.49 291.36 L346.20 292.24 L346.91 293.10 L347.62 293.95 L348.33 294.78 L349.05 295.61 L349.76 296.41 L350.47 297.21 L351.18 297.99 L351.89 298.75 L352.60 299.50 L353.32 300.23 L354.03 300.95 L354.74 301.65 L355.45 302.34 L356.16 303.01 L356.87 303.67 L357.58 304.31 L358.30 304.94 L358.84 305.40" stroke="#2a2a2a" stroke-width="1.05" fill="none" stroke-linejoin="round"/>
<path d="M261.88 213.10V221.20M257.68 213.10h8.41M257.68 221.20h8.41M284.73 230.20V237.80M280.53 230.20h8.41M280.53 237.80h8.41" stroke="#1a1a1a" stroke-width="1.05" fill="none"/>
<circle cx="261.88" cy="217.00" r="3.85" fill="#575757" stroke="#141414" stroke-width="0.9"/>
<circle cx="273.31" cy="229.30" r="3.85" fill="#575757" stroke="#141414" stroke-width="0.9"/>
<circle cx="284.73" cy="233.90" r="3.85" fill="#575757" stroke="#141414" stroke-width="0.9"/>
<circle cx="296.16" cy="236.20" r="3.85" fill="#575757" stroke="#141414" stroke-width="0.9"/>
<circle cx="307.58" cy="236.20" r="3.85" fill="#575757" stroke="#141414" stroke-width="0.9"/>
<circle cx="319.00" cy="258.80" r="3.85" fill="#575757" stroke="#141414" stroke-width="0.9"/>
<circle cx="330.43" cy="267.00" r="3.85" fill="#575757" stroke="#141414" stroke-width="0.9"/>
<circle cx="341.85" cy="289.20" r="3.85" fill="#575757" stroke="#141414" stroke-width="0.9"/>
<circle cx="353.28" cy="301.65" r="3.85" fill="#575757" stroke="#141414" stroke-width="0.9"/>
<circle cx="364.70" cy="305.40" r="3.85" fill="#575757" stroke="#141414" stroke-width="0.9"/>
<text transform="rotate(0.04 255.80 298.10)" fill="#101010" stroke="#101010" stroke-width="0.5"><tspan x="255.80" y="298.10" font-size="12.50" textLength="10.30" lengthAdjust="spacingAndGlyphs">IC</tspan><tspan x="266.40" y="300.70" font-size="7.90" textLength="8.60" lengthAdjust="spacingAndGlyphs">50</tspan><tspan x="276.00" y="298.10" font-size="12.50" textLength="64.80" lengthAdjust="spacingAndGlyphs">=12.2µg/ml</tspan></text>
<path d="M445.60 203.95V328.45M445.15 307.40H587.95" stroke="#0a0a0a" stroke-width="0.90" fill="none"/>
<path d="M445.60 328.00h-2.48M445.60 323.88h-1.62M445.60 319.76h-1.62M445.60 315.64h-1.62M445.60 311.52h-1.62M445.60 307.40h-2.48M445.60 303.28h-1.62M445.60 299.16h-1.62M445.60 295.04h-1.62M445.60 290.92h-1.62M445.60 286.80h-2.48M445.60 282.68h-1.62M445.60 278.56h-1.62M445.60 274.44h-1.62M445.60 270.32h-1.62M445.60 266.20h-2.48M445.60 262.08h-1.62M445.60 257.96h-1.62M445.60 253.84h-1.62M445.60 249.72h-1.62M445.60 245.60h-2.48M445.60 241.48h-1.62M445.60 237.36h-1.62M445.60 233.24h-1.62M445.60 229.12h-1.62M445.60 225.00h-2.48M445.60 220.88h-1.62M445.60 216.76h-1.62M445.60 212.64h-1.62M445.60 208.52h-1.62M445.60 204.40h-2.48M452.23 307.40v1.62M459.36 307.40v1.62M466.49 307.40v1.62M473.62 307.40v1.62M480.75 307.40v2.48M487.88 307.40v1.62M495.01 307.40v1.62M502.14 307.40v1.62M509.27 307.40v1.62M516.40 307.40v2.48M523.53 307.40v1.62M530.66 307.40v1.62M537.79 307.40v1.62M544.92 307.40v1.62M552.05 307.40v2.48M559.18 307.40v1.62M566.31 307.40v1.62M573.44 307.40v1.62M580.57 307.40v1.62M587.70 307.40v2.48" stroke="#0a0a0a" stroke-width="0.86" fill="none"/>
<text x="440.65" y="207.54" font-size="10.09" text-anchor="end" transform="rotate(0.04 440.65 207.54)" stroke="#000" stroke-width="0.37">125</text>
<text x="440.65" y="228.14" font-size="10.09" text-anchor="end" transform="rotate(0.04 440.65 228.14)" stroke="#000" stroke-width="0.37">100</text>
<text x="440.65" y="248.74" font-size="10.09" text-anchor="end" transform="rotate(0.04 440.65 248.74)" stroke="#000" stroke-width="0.37">75</text>
<text x="440.65" y="269.34" font-size="10.09" text-anchor="end" transform="rotate(0.04 440.65 269.34)" stroke="#000" stroke-width="0.37">50</text>
<text x="440.65" y="289.94" font-size="10.09" text-anchor="end" transform="rotate(0.04 440.65 289.94)" stroke="#000" stroke-width="0.37">25</text>
<text x="440.65" y="310.54" font-size="10.09" text-anchor="end" transform="rotate(0.04 440.65 310.54)" stroke="#000" stroke-width="0.37">0</text>
<text x="440.65" y="331.14" font-size="10.09" text-anchor="end" transform="rotate(0.04 440.65 331.14)" stroke="#000" stroke-width="0.37">-25</text>
<text x="480.85" y="321.87" font-size="10.09" text-anchor="middle" transform="rotate(0.04 480.85 321.87)" stroke="#000" stroke-width="0.37">0</text>
<text x="516.50" y="321.87" font-size="10.09" text-anchor="middle" transform="rotate(0.04 516.50 321.87)" stroke="#000" stroke-width="0.37">1</text>
<text x="552.15" y="321.87" font-size="10.09" text-anchor="middle" transform="rotate(0.04 552.15 321.87)" stroke="#000" stroke-width="0.37">2</text>
<text x="587.80" y="321.87" font-size="10.09" text-anchor="middle" transform="rotate(0.04 587.80 321.87)" stroke="#000" stroke-width="0.37">3</text>
<text x="414.95" y="306.60" font-size="11.90" textLength="82.85" lengthAdjust="spacingAndGlyphs" transform="rotate(-90 414.95 306.60)" stroke="#000" stroke-width="0.37">Cell survival [%]</text>
<text x="467.99" y="345.67" font-size="10.28" textLength="102.43" lengthAdjust="spacingAndGlyphs" transform="rotate(0.04 467.99 345.67)" stroke="#000" stroke-width="0.37">Log concentration [µM]</text>
<path d="M445.10 229.25 L445.77 229.27 L446.44 229.30 L447.11 229.33 L447.77 229.36 L448.44 229.39 L449.11 229.42 L449.78 229.45 L450.45 229.48 L451.12 229.52 L451.78 229.56 L452.45 229.60 L453.12 229.64 L453.79 229.68 L454.46 229.72 L455.13 229.77 L455.80 229.82 L456.46 229.87 L457.13 229.93 L457.80 229.98 L458.47 230.04 L459.14 230.10 L459.81 230.16 L460.47 230.23 L461.14 230.30 L461.81 230.37 L462.48 230.45 L463.15 230.53 L463.82 230.61 L464.48 230.70 L465.15 230.79 L465.82 230.89 L466.49 230.98 L467.16 231.09 L467.83 231.20 L468.50 231.31 L469.16 231.43 L469.83 231.55 L470.50 231.68 L471.17 231.81 L471.84 231.95 L472.51 232.10 L473.17 232.25 L473.84 232.41 L474.51 232.57 L475.18 232.74 L475.85 232.92 L476.52 233.11 L477.19 233.30 L477.85 233.51 L478.52 233.72 L479.19 233.94 L479.86 234.17 L480.53 234.41 L481.20 234.66 L481.86 234.91 L482.53 235.18 L483.20 235.46 L483.87 235.75 L484.54 236.06 L485.21 236.37 L485.87 236.70 L486.54 237.03 L487.21 237.39 L487.88 237.75 L488.55 238.13 L489.22 238.52 L489.89 238.93 L490.55 239.35 L491.22 239.79 L491.89 240.24 L492.56 240.70 L493.23 241.19 L493.90 241.69 L494.56 242.20 L495.23 242.74 L495.90 243.29 L496.57 243.85 L497.24 244.44 L497.91 245.04 L498.57 245.66 L499.24 246.30 L499.91 246.96 L500.58 247.64 L501.25 248.33 L501.92 249.04 L502.59 249.77 L503.25 250.52 L503.92 251.29 L504.59 252.08 L505.26 252.88 L505.93 253.70 L506.60 254.54 L507.26 255.39 L507.93 256.26 L508.60 257.15 L509.27 258.06 L509.94 258.97 L510.61 259.91 L511.28 260.85 L511.94 261.81 L512.61 262.79 L513.28 263.77 L513.95 264.76 L514.62 265.77 L515.29 266.78 L515.95 267.80 L516.62 268.83 L517.29 269.86 L517.96 270.90 L518.63 271.95 L519.30 272.99 L519.97 274.04 L520.63 275.09 L521.30 276.14 L521.97 277.19 L522.64 278.23 L523.31 279.27 L523.98 280.31 L524.64 281.34 L525.31 282.36 L525.98 283.38 L526.65 284.39 L527.32 285.39 L527.99 286.38 L528.65 287.35 L529.32 288.32 L529.99 289.27 L530.66 290.21 L531.33 291.13 L532.00 292.04 L532.67 292.93 L533.33 293.81 L534.00 294.67 L534.67 295.52 L535.34 296.34 L536.01 297.15 L536.68 297.95 L537.34 298.72 L538.01 299.48 L538.68 300.22 L539.35 300.94 L540.02 301.64 L540.69 302.32 L541.36 302.98 L542.02 303.63 L542.69 304.26 L543.36 304.87 L544.03 305.46 L544.70 306.04 L545.37 306.59 L546.03 307.13 L546.38 307.40" stroke="#2a2a2a" stroke-width="1.05" fill="none" stroke-linejoin="round"/>
<path d="M487.66 232.00V242.50M483.71 232.00h7.90M483.71 242.50h7.90M498.39 241.80V250.10M494.44 241.80h7.90M494.44 250.10h7.90M519.85 262.60V270.70M515.90 262.60h7.90M515.90 270.70h7.90" stroke="#1a1a1a" stroke-width="1.05" fill="none"/>
<circle cx="455.46" cy="231.60" r="3.62" fill="#575757" stroke="#141414" stroke-width="0.9"/>
<circle cx="466.20" cy="234.40" r="3.62" fill="#575757" stroke="#141414" stroke-width="0.9"/>
<circle cx="476.93" cy="228.10" r="3.62" fill="#575757" stroke="#141414" stroke-width="0.9"/>
<circle cx="487.66" cy="236.90" r="3.62" fill="#575757" stroke="#141414" stroke-width="0.9"/>
<circle cx="498.39" cy="246.40" r="3.62" fill="#575757" stroke="#141414" stroke-width="0.9"/>
<circle cx="509.12" cy="259.30" r="3.62" fill="#575757" stroke="#141414" stroke-width="0.9"/>
<circle cx="519.85" cy="266.60" r="3.62" fill="#575757" stroke="#141414" stroke-width="0.9"/>
<circle cx="530.59" cy="292.00" r="3.62" fill="#575757" stroke="#141414" stroke-width="0.9"/>
<circle cx="541.32" cy="307.70" r="3.62" fill="#575757" stroke="#141414" stroke-width="0.9"/>
<circle cx="552.05" cy="307.70" r="3.62" fill="#575757" stroke="#141414" stroke-width="0.9"/>
<text transform="rotate(0.04 448.60 301.40)" fill="#101010" stroke="#101010" stroke-width="0.5"><tspan x="448.60" y="301.40" font-size="12.50" textLength="10.30" lengthAdjust="spacingAndGlyphs">IC</tspan><tspan x="459.20" y="304.00" font-size="7.90" textLength="8.60" lengthAdjust="spacingAndGlyphs">50</tspan><tspan x="468.80" y="301.40" font-size="12.50" textLength="64.80" lengthAdjust="spacingAndGlyphs">=12.8µg/ml</tspan></text>
<path d="M633.60 205.75V330.61M633.15 309.50H775.90" stroke="#0a0a0a" stroke-width="0.91" fill="none"/>
<path d="M633.60 330.16h-2.48M633.60 326.03h-1.62M633.60 321.90h-1.62M633.60 317.76h-1.62M633.60 313.63h-1.62M633.60 309.50h-2.48M633.60 305.37h-1.62M633.60 301.24h-1.62M633.60 297.10h-1.62M633.60 292.97h-1.62M633.60 288.84h-2.48M633.60 284.71h-1.62M633.60 280.58h-1.62M633.60 276.44h-1.62M633.60 272.31h-1.62M633.60 268.18h-2.48M633.60 264.05h-1.62M633.60 259.92h-1.62M633.60 255.78h-1.62M633.60 251.65h-1.62M633.60 247.52h-2.48M633.60 243.39h-1.62M633.60 239.26h-1.62M633.60 235.12h-1.62M633.60 230.99h-1.62M633.60 226.86h-2.48M633.60 222.73h-1.62M633.60 218.60h-1.62M633.60 214.46h-1.62M633.60 210.33h-1.62M633.60 206.20h-2.48M639.99 309.50v1.62M647.13 309.50v1.62M654.27 309.50v1.62M661.41 309.50v1.62M668.55 309.50v2.48M675.69 309.50v1.62M682.83 309.50v1.62M689.97 309.50v1.62M697.11 309.50v1.62M704.25 309.50v2.48M711.39 309.50v1.62M718.53 309.50v1.62M725.67 309.50v1.62M732.81 309.50v1.62M739.95 309.50v2.48M747.09 309.50v1.62M754.23 309.50v1.62M761.37 309.50v1.62M768.51 309.50v1.62M775.65 309.50v2.48" stroke="#0a0a0a" stroke-width="0.86" fill="none"/>
<text x="628.64" y="209.35" font-size="10.10" text-anchor="end" transform="rotate(0.04 628.64 209.35)" stroke="#000" stroke-width="0.37">125</text>
<text x="628.64" y="230.01" font-size="10.10" text-anchor="end" transform="rotate(0.04 628.64 230.01)" stroke="#000" stroke-width="0.37">100</text>
<text x="628.64" y="250.67" font-size="10.10" text-anchor="end" transform="rotate(0.04 628.64 250.67)" stroke="#000" stroke-width="0.37">75</text>
<text x="628.64" y="271.33" font-size="10.10" text-anchor="end" transform="rotate(0.04 628.64 271.33)" stroke="#000" stroke-width="0.37">50</text>
<text x="628.64" y="291.99" font-size="10.10" text-anchor="end" transform="rotate(0.04 628.64 291.99)" stroke="#000" stroke-width="0.37">25</text>
<text x="628.64" y="312.65" font-size="10.10" text-anchor="end" transform="rotate(0.04 628.64 312.65)" stroke="#000" stroke-width="0.37">0</text>
<text x="628.64" y="333.31" font-size="10.10" text-anchor="end" transform="rotate(0.04 628.64 333.31)" stroke="#000" stroke-width="0.37">-25</text>
<text x="668.65" y="323.99" font-size="10.10" text-anchor="middle" transform="rotate(0.04 668.65 323.99)" stroke="#000" stroke-width="0.37">0</text>
<text x="704.35" y="323.99" font-size="10.10" text-anchor="middle" transform="rotate(0.04 704.35 323.99)" stroke="#000" stroke-width="0.37">1</text>
<text x="740.05" y="323.99" font-size="10.10" text-anchor="middle" transform="rotate(0.04 740.05 323.99)" stroke="#000" stroke-width="0.37">2</text>
<text x="775.75" y="323.99" font-size="10.10" text-anchor="middle" transform="rotate(0.04 775.75 323.99)" stroke="#000" stroke-width="0.37">3</text>
<text x="602.90" y="308.70" font-size="11.92" textLength="83.10" lengthAdjust="spacingAndGlyphs" transform="rotate(-90 602.90 308.70)" stroke="#000" stroke-width="0.37">Cell survival [%]</text>
<text x="655.78" y="347.82" font-size="10.30" textLength="102.57" lengthAdjust="spacingAndGlyphs" transform="rotate(0.04 655.78 347.82)" stroke="#000" stroke-width="0.37">Log concentration [µM]</text>
<path d="M632.85 232.32 L633.52 232.34 L634.19 232.37 L634.86 232.39 L635.53 232.42 L636.20 232.45 L636.87 232.48 L637.54 232.51 L638.20 232.54 L638.87 232.57 L639.54 232.61 L640.21 232.64 L640.88 232.68 L641.55 232.72 L642.22 232.76 L642.89 232.80 L643.56 232.85 L644.23 232.89 L644.90 232.94 L645.57 232.99 L646.24 233.05 L646.91 233.10 L647.58 233.16 L648.25 233.22 L648.91 233.29 L649.58 233.35 L650.25 233.42 L650.92 233.49 L651.59 233.57 L652.26 233.65 L652.93 233.73 L653.60 233.82 L654.27 233.91 L654.94 234.00 L655.61 234.10 L656.28 234.20 L656.95 234.31 L657.62 234.42 L658.29 234.54 L658.96 234.66 L659.62 234.78 L660.29 234.92 L660.96 235.05 L661.63 235.20 L662.30 235.35 L662.97 235.50 L663.64 235.66 L664.31 235.83 L664.98 236.01 L665.65 236.19 L666.32 236.39 L666.99 236.59 L667.66 236.79 L668.33 237.01 L669.00 237.23 L669.67 237.47 L670.33 237.71 L671.00 237.97 L671.67 238.23 L672.34 238.50 L673.01 238.79 L673.68 239.08 L674.35 239.39 L675.02 239.71 L675.69 240.04 L676.36 240.39 L677.03 240.74 L677.70 241.11 L678.37 241.50 L679.04 241.90 L679.71 242.31 L680.38 242.74 L681.04 243.18 L681.71 243.63 L682.38 244.11 L683.05 244.60 L683.72 245.10 L684.39 245.62 L685.06 246.16 L685.73 246.72 L686.40 247.29 L687.07 247.88 L687.74 248.49 L688.41 249.12 L689.08 249.76 L689.75 250.42 L690.42 251.11 L691.09 251.81 L691.75 252.52 L692.42 253.26 L693.09 254.01 L693.76 254.79 L694.43 255.58 L695.10 256.39 L695.77 257.21 L696.44 258.06 L697.11 258.92 L697.78 259.79 L698.45 260.69 L699.12 261.60 L699.79 262.52 L700.46 263.46 L701.13 264.41 L701.80 265.38 L702.46 266.36 L703.13 267.35 L703.80 268.35 L704.47 269.36 L705.14 270.39 L705.81 271.42 L706.48 272.45 L707.15 273.50 L707.82 274.55 L708.49 275.60 L709.16 276.66 L709.83 277.72 L710.50 278.78 L711.17 279.84 L711.84 280.90 L712.51 281.96 L713.17 283.02 L713.84 284.07 L714.51 285.11 L715.18 286.15 L715.85 287.19 L716.52 288.21 L717.19 289.23 L717.86 290.24 L718.53 291.23 L719.20 292.22 L719.87 293.19 L720.54 294.15 L721.21 295.09 L721.88 296.02 L722.55 296.94 L723.22 297.84 L723.88 298.72 L724.55 299.59 L725.22 300.44 L725.89 301.27 L726.56 302.09 L727.23 302.89 L727.90 303.67 L728.57 304.43 L729.24 305.18 L729.91 305.90 L730.58 306.61 L731.25 307.30 L731.92 307.97 L732.59 308.62 L733.26 309.26 L733.52 309.50" stroke="#2a2a2a" stroke-width="1.05" fill="none" stroke-linejoin="round"/>
<path d="M643.23 226.30V234.80M639.27 226.30h7.91M639.27 234.80h7.91M653.98 230.40V242.00M650.02 230.40h7.91M650.02 242.00h7.91M664.72 232.80V245.20M660.77 232.80h7.91M660.77 245.20h7.91M675.47 229.30V251.30M671.51 229.30h7.91M671.51 251.30h7.91M686.22 246.60V255.20M682.26 246.60h7.91M682.26 255.20h7.91M707.71 263.10V271.20M703.75 263.10h7.91M703.75 271.20h7.91" stroke="#1a1a1a" stroke-width="1.05" fill="none"/>
<circle cx="643.23" cy="230.40" r="3.62" fill="#575757" stroke="#141414" stroke-width="0.9"/>
<circle cx="653.98" cy="236.00" r="3.62" fill="#575757" stroke="#141414" stroke-width="0.9"/>
<circle cx="664.72" cy="239.20" r="3.62" fill="#575757" stroke="#141414" stroke-width="0.9"/>
<circle cx="675.47" cy="240.60" r="3.62" fill="#575757" stroke="#141414" stroke-width="0.9"/>
<circle cx="686.22" cy="251.00" r="3.62" fill="#575757" stroke="#141414" stroke-width="0.9"/>
<circle cx="696.96" cy="258.00" r="3.62" fill="#575757" stroke="#141414" stroke-width="0.9"/>
<circle cx="707.71" cy="267.00" r="3.62" fill="#575757" stroke="#141414" stroke-width="0.9"/>
<circle cx="718.46" cy="298.00" r="3.62" fill="#575757" stroke="#141414" stroke-width="0.9"/>
<circle cx="729.20" cy="309.95" r="3.62" fill="#575757" stroke="#141414" stroke-width="0.9"/>
<circle cx="739.95" cy="309.70" r="3.62" fill="#575757" stroke="#141414" stroke-width="0.9"/>
<text transform="rotate(0.04 635.90 303.70)" fill="#101010" stroke="#101010" stroke-width="0.5"><tspan x="635.90" y="303.70" font-size="12.50" textLength="10.30" lengthAdjust="spacingAndGlyphs">IC</tspan><tspan x="646.50" y="306.30" font-size="7.90" textLength="8.60" lengthAdjust="spacingAndGlyphs">50</tspan><tspan x="656.10" y="303.70" font-size="12.50" textLength="64.80" lengthAdjust="spacingAndGlyphs">=13.6µg/ml</tspan></text>
</svg></body></html>
